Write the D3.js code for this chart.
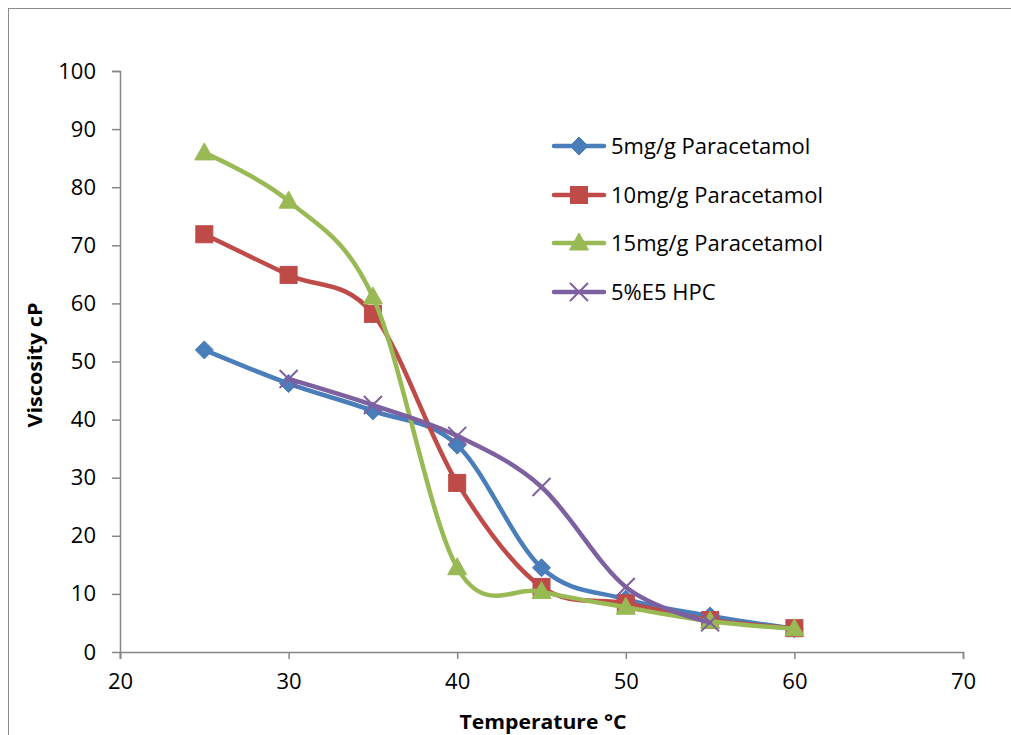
<!DOCTYPE html>
<html>
<head>
<meta charset="utf-8">
<script src="https://cdn.jsdelivr.net/npm/d3@7"></script>
<style>
  html, body { margin: 0; padding: 0; background: #fff; }
  svg { display: block; }
</style>
</head>
<body>
<svg id="chart" width="1011" height="735"></svg>
<script>
// ---- data ----
const temps = [25, 30, 35, 40, 45, 50, 55, 60];
const series5mg  = [52, 46.2, 41.5, 35.6, 14.5, 9.1, 6.2, 4];
const series10mg = [71.9, 64.9, 58.2, 29.1, 11.2, 8.4, 5.5, 4.1];
const series15mg = [85.9, 77.6, 61.1, 14.5, 10.4, 7.7, 5.3, 4];
const tempsHPC = [30, 35, 40, 45, 50, 55];
const seriesHPC = [47, 42.5, 37.2, 28.4, 11.2, 5.1];
const seriesNames = ["5mg/g Paracetamol", "10mg/g Paracetamol", "15mg/g Paracetamol", "5%E5 HPC"];
const xTicks = [20, 30, 40, 50, 60, 70];
const yTicks = [0, 10, 20, 30, 40, 50, 60, 70, 80, 90, 100];

const colors = ["#4A7EBB", "#BE4B48", "#98B954", "#7D60A0"];
const markers = ["diamond", "square", "triangle", "x"];

const svg = d3.select("#chart");
svg.append("rect").attr("width", 1011).attr("height", 735).attr("fill", "#fff");
// outer chart border
svg.append("rect").attr("x", 8.5).attr("y", 8.5).attr("width", 1010).attr("height", 740)
  .attr("fill", "none").attr("stroke", "#8c8c8c").attr("stroke-width", 1);

const x = d3.scaleLinear().domain([20, 70]).range([120, 963]);
const y = d3.scaleLinear().domain([0, 100]).range([652, 71]);

const axisColor = "#868686";
const tickFont = "'Open Sans', sans-serif";

// y axis
const yAxis = svg.append("g").attr("transform", "translate(120,0)")
  .call(d3.axisLeft(y).tickValues(yTicks).tickSize(8).tickPadding(16).tickFormat(d3.format("d")));
// x axis
const xAxis = svg.append("g").attr("transform", "translate(0,652)")
  .call(d3.axisBottom(x).tickValues(xTicks).tickSize(7).tickPadding(14).tickFormat(d3.format("d")));
[yAxis, xAxis].forEach(g => {
  g.select(".domain").attr("stroke", axisColor).attr("stroke-width", 1.5);
  g.selectAll(".tick line").attr("stroke", axisColor).attr("stroke-width", 1.5);
  g.selectAll(".tick text").attr("fill", "#000").style("font-family", tickFont).style("font-size", "22px");
});
yAxis.select(".domain").attr("d", "M-8,71.5H0.5V659");

// axis titles
svg.append("text").attr("x", 543).attr("y", 729).attr("text-anchor", "middle")
  .style("font-family", tickFont).style("font-weight", "bold").style("font-size", "19px")
  .attr("textLength", 167).attr("lengthAdjust", "spacingAndGlyphs")
  .text("Temperature °C");
svg.append("text").attr("transform", "translate(42,365) rotate(-90)").attr("text-anchor", "middle")
  .style("font-family", tickFont).style("font-weight", "bold").style("font-size", "19px")
  .attr("textLength", 125).attr("lengthAdjust", "spacingAndGlyphs")
  .text("Viscosity cP");

// series
const allSeries = [
  { xs: temps, ys: series5mg },
  { xs: temps, ys: series10mg },
  { xs: temps, ys: series15mg },
  { xs: tempsHPC, ys: seriesHPC }
];

const line = d3.line().x(d => x(d[0])).y(d => y(d[1])).curve(d3.curveCardinal.tension(0));

function drawMarker(g, type, cx, cy, color) {
  if (type === "diamond") {
    g.append("path").attr("d", `M${cx},${cy-9}L${cx+9},${cy}L${cx},${cy+9}L${cx-9},${cy}Z`)
      .attr("fill", color).attr("stroke", color).attr("stroke-width", 1);
  } else if (type === "square") {
    g.append("rect").attr("x", cx - 8.5).attr("y", cy - 8.5).attr("width", 17).attr("height", 17)
      .attr("fill", color).attr("stroke", color).attr("stroke-width", 1);
  } else if (type === "triangle") {
    g.append("path").attr("d", `M${cx},${cy-10}L${cx+9.5},${cy+7}L${cx-9.5},${cy+7}Z`)
      .attr("fill", color).attr("stroke", color).attr("stroke-width", 1);
  } else if (type === "x") {
    g.append("path").attr("d", `M${cx-9},${cy-9}L${cx+9},${cy+9}M${cx-9},${cy+9}L${cx+9},${cy-9}`)
      .attr("fill", "none").attr("stroke", color).attr("stroke-width", 2);
  }
}

allSeries.forEach((s, i) => {
  const pts = s.xs.map((t, j) => [t, s.ys[j]]);
  const g = svg.append("g");
  g.append("path").datum(pts).attr("d", line)
    .attr("fill", "none").attr("stroke", colors[i]).attr("stroke-width", 4.5)
    .attr("stroke-linecap", "round").attr("stroke-linejoin", "round");
  pts.forEach(p => drawMarker(g, markers[i], x(p[0]), y(p[1]), colors[i]));
});

// legend
const legendY = [146, 195, 243, 292];
seriesNames.forEach((name, i) => {
  const g = svg.append("g");
  g.append("line").attr("x1", 554).attr("x2", 604).attr("y1", legendY[i]).attr("y2", legendY[i])
    .attr("stroke", colors[i]).attr("stroke-width", 4.5).attr("stroke-linecap", "round");
  drawMarker(g, markers[i], 579, legendY[i], colors[i]);
  g.append("text").attr("x", 611).attr("y", legendY[i]).attr("dy", "0.36em")
    .style("font-family", tickFont).style("font-size", "22px").attr("fill", "#000")
    .text(name);
});
</script>
</body>
</html>
